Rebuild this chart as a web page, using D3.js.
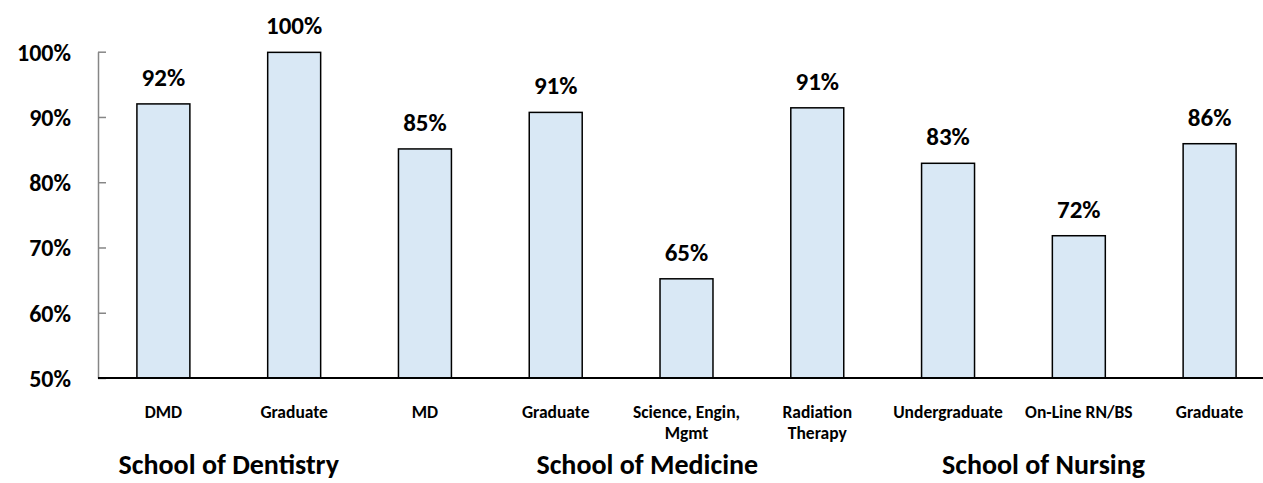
<!DOCTYPE html>
<html>
<head>
<meta charset="utf-8">
<script src="https://cdn.jsdelivr.net/npm/d3@7"></script>
<style>
  html, body { margin: 0; padding: 0; background: #fff; }
  svg text { font-family: Carlito, Lato, "Open Sans", sans-serif; font-weight: bold; fill: #000; }
</style>
</head>
<body>
<svg id="chart" width="1263" height="483"></svg>
<script>
// ---- data ----
const categories = ["DMD", "Graduate", "MD", "Graduate", "Science, Engin,|Mgmt", "Radiation|Therapy", "Undergraduate", "On-Line RN/BS", "Graduate"];
const values = [92.0, 99.9, 85.1, 90.7, 65.2, 91.4, 82.9, 71.8, 85.9];
const valueLabels = ["92%", "100%", "85%", "91%", "65%", "91%", "83%", "72%", "86%"];
const yTicks = [50, 60, 70, 80, 90, 100];
const groupNames = ["School of Dentistry", "School of Medicine", "School of Nursing"];
const groupCenters = [0.5, 3.70, 6.73]; // in category-index units

const svg = d3.select("#chart");
const margin = { left: 98, top: 51.7, bottom: 105 };
const plotW = 1177;
const x = d3.scaleBand().domain(d3.range(categories.length)).range([margin.left, margin.left + plotW]).paddingInner(0.595).paddingOuter(0.2975);
const y = d3.scaleLinear().domain([50, 100]).range([378, margin.top]);
const idx = d3.scaleLinear().domain([0, categories.length]).range([margin.left, margin.left + plotW]);

// y axis
const yAxis = d3.axisLeft(y).tickValues(yTicks).tickSize(-8).tickSizeOuter(0).tickFormat(d => d + "%").tickPadding(27);
const ga = svg.append("g").attr("transform", `translate(${margin.left},0)`).call(yAxis);
ga.select(".domain").attr("stroke", "#868686").attr("stroke-width", 1.5);
ga.selectAll(".tick line").attr("stroke", "#868686").attr("stroke-width", 1.5);
ga.selectAll(".tick text").attr("font-size", 24).attr("dy", "0.35em").attr("fill", "#000")
  .style("font-family", "Carlito, Lato, 'Open Sans', sans-serif").style("font-weight", "bold");

// bars
svg.append("g").selectAll("rect").data(values).join("rect")
  .attr("x", (d, i) => x(i))
  .attr("width", x.bandwidth())
  .attr("y", d => y(d))
  .attr("height", d => y(50) - y(d))
  .attr("fill", "#d9e8f5")
  .attr("stroke", "#000")
  .attr("stroke-width", 1.5);

// baseline
svg.append("line").attr("x1", margin.left).attr("x2", margin.left + plotW)
  .attr("y1", y(50)).attr("y2", y(50)).attr("stroke", "#000").attr("stroke-width", 2);

// value labels
svg.append("g").selectAll("text").data(values).join("text")
  .attr("x", (d, i) => x(i) + x.bandwidth() / 2)
  .attr("y", d => y(d) - 18)
  .attr("text-anchor", "middle")
  .attr("font-size", 25)
  .text((d, i) => valueLabels[i]);

// category labels
const cg = svg.append("g").selectAll("text").data(categories).join("text")
  .attr("x", (d, i) => x(i) + x.bandwidth() / 2)
  .attr("y", 418)
  .attr("text-anchor", "middle")
  .attr("font-size", 17.5);
cg.each(function(d) {
  const parts = d.split("|");
  const t = d3.select(this);
  parts.forEach((p, k) => {
    t.append("tspan").attr("x", t.attr("x")).attr("dy", k === 0 ? 0 : 21).text(p);
  });
});

// group labels
svg.append("g").selectAll("text").data(groupNames).join("text")
  .attr("x", (d, i) => idx(groupCenters[i] + 0.5))
  .attr("y", 474)
  .attr("text-anchor", "middle")
  .attr("font-size", 28)
  .text(d => d);
</script>
</body>
</html>
